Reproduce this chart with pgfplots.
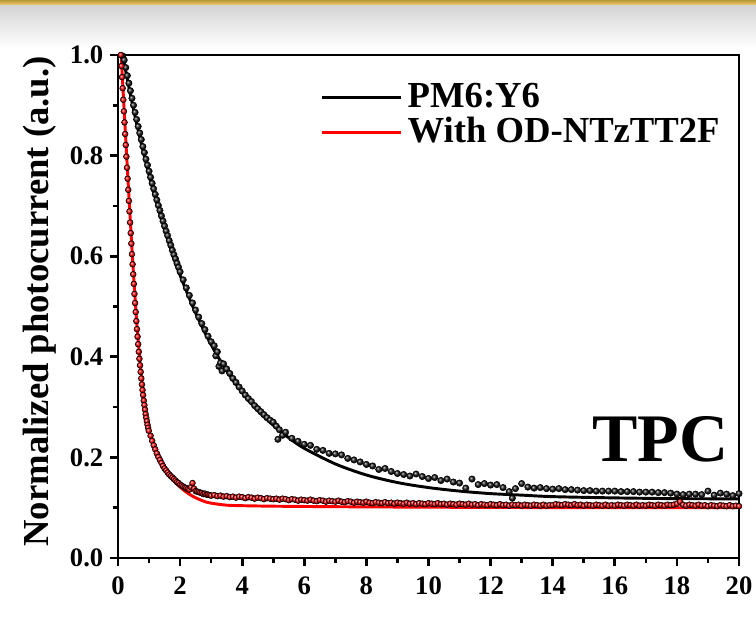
\documentclass[border=0pt]{standalone}
\usepackage{fontspec}
\setmainfont{Liberation Serif}
\usepackage{pgfplots}
\usepackage{pgfplotstable}
\pgfplotsset{compat=1.18}

\definecolor{goldA}{HTML}{B8963A}
\definecolor{goldB}{HTML}{F0D070}
\definecolor{bandgray}{HTML}{D4D4D4}

% PM6:Y6 measured points
\pgfplotstableread{
x y
0.15 0.998
0.20 0.990
0.25 0.975
0.30 0.959
0.35 0.944
0.40 0.929
0.45 0.914
0.50 0.900
0.55 0.886
0.60 0.872
0.65 0.858
0.70 0.845
0.75 0.832
0.80 0.818
0.85 0.806
0.90 0.793
0.95 0.781
1.00 0.769
1.05 0.757
1.10 0.745
1.15 0.734
1.20 0.723
1.25 0.712
1.30 0.701
1.35 0.691
1.40 0.680
1.45 0.670
1.50 0.660
1.55 0.650
1.60 0.641
1.65 0.631
1.70 0.622
1.75 0.612
1.80 0.603
1.85 0.595
1.90 0.586
1.95 0.578
2.00 0.569
2.1 0.553
2.2 0.537
2.3 0.522
2.4 0.507
2.5 0.493
2.6 0.479
2.7 0.466
2.8 0.454
2.9 0.441
3.0 0.430
3.1 0.422
3.15 0.402
3.2 0.410
3.25 0.381
3.3 0.388
3.35 0.372
3.4 0.386
3.5 0.376
3.6 0.367
3.7 0.357
3.8 0.349
3.9 0.340
4.0 0.332
4.1 0.324
4.2 0.317
4.3 0.311
4.4 0.303
4.5 0.297
4.6 0.291
4.7 0.285
4.8 0.279
4.9 0.274
5.0 0.270
5.1 0.262
5.15 0.236
5.2 0.255
5.3 0.244
5.4 0.250
5.6 0.238
5.8 0.232
6.0 0.226
6.2 0.224
6.4 0.216
6.6 0.214
6.8 0.208
7.0 0.207
7.2 0.205
7.4 0.198
7.6 0.195
7.8 0.191
8.0 0.186
8.2 0.183
8.4 0.176
8.6 0.178
8.8 0.172
9.0 0.168
9.2 0.166
9.4 0.163
9.6 0.167
9.8 0.162
10.0 0.158
10.2 0.160
10.4 0.154
10.6 0.157
10.8 0.151
11.0 0.149
11.2 0.139
11.4 0.157
11.6 0.146
11.8 0.148
12.0 0.145
12.2 0.146
12.4 0.140
12.6 0.132
12.7 0.119
12.8 0.138
13.0 0.148
13.2 0.141
13.4 0.139
13.6 0.140
13.8 0.138
14.0 0.137
14.2 0.138
14.4 0.136
14.6 0.136
14.8 0.135
15.0 0.134
15.2 0.134
15.4 0.133
15.6 0.133
15.8 0.133
16.0 0.133
16.2 0.132
16.4 0.132
16.6 0.132
16.8 0.131
17.0 0.131
17.2 0.131
17.4 0.130
17.6 0.130
17.8 0.129
18.0 0.127
18.2 0.126
18.4 0.127
18.6 0.127
18.8 0.126
19.0 0.133
19.2 0.125
19.4 0.129
19.6 0.127
19.8 0.124
20.0 0.128
}\blackdata

% PM6:Y6 fit
\pgfplotstableread{
x y
0.15 1.000
0.3 0.952
0.5 0.892
0.75 0.824
1.0 0.761
1.25 0.705
1.5 0.653
1.75 0.605
2.0 0.562
2.5 0.487
3.0 0.424
3.5 0.372
4.0 0.329
4.5 0.293
5.0 0.264
5.5 0.239
6 0.218
7 0.187
8 0.165
9 0.150
10 0.140
11 0.133
12 0.128
13 0.125
14 0.122
16 0.1195
18 0.118
20 0.1176
}\blackfit

% With OD-NTzTT2F measured points
\pgfplotstableread{
x y
0.09 1.000
0.11 0.978
0.13 0.956
0.15 0.934
0.17 0.911
0.19 0.888
0.21 0.866
0.23 0.843
0.25 0.821
0.27 0.798
0.29 0.776
0.31 0.754
0.33 0.732
0.35 0.710
0.37 0.689
0.39 0.667
0.41 0.646
0.43 0.625
0.45 0.604
0.47 0.584
0.49 0.564
0.51 0.545
0.53 0.525
0.55 0.507
0.57 0.489
0.59 0.471
0.61 0.455
0.63 0.440
0.65 0.425
0.67 0.410
0.69 0.396
0.71 0.383
0.73 0.370
0.75 0.357
0.77 0.345
0.79 0.334
0.81 0.324
0.83 0.313
0.85 0.304
0.87 0.295
0.89 0.286
0.91 0.279
0.93 0.272
0.95 0.265
0.97 0.259
0.99 0.253
1.05 0.243
1.10 0.233
1.15 0.224
1.20 0.216
1.25 0.208
1.30 0.201
1.35 0.195
1.40 0.189
1.45 0.183
1.50 0.178
1.55 0.174
1.60 0.170
1.65 0.166
1.70 0.163
1.75 0.160
1.80 0.157
1.85 0.154
1.90 0.151
1.95 0.149
2.00 0.146
2.05 0.144
2.10 0.142
2.15 0.140
2.20 0.139
2.25 0.137
2.30 0.136
2.35 0.141
2.40 0.149
2.45 0.138
2.50 0.133
2.55 0.132
2.60 0.131
2.65 0.130
2.70 0.129
2.75 0.127
2.80 0.128
2.85 0.126
2.90 0.126
2.95 0.125
3.00 0.124
3.1 0.125
3.2 0.123
3.3 0.124
3.4 0.122
3.5 0.123
3.6 0.121
3.7 0.122
3.8 0.120
3.9 0.122
4.0 0.121
4.1 0.119
4.2 0.121
4.3 0.120
4.4 0.118
4.5 0.120
4.6 0.119
4.7 0.117
4.8 0.119
4.9 0.118
5.0 0.117
5.1 0.118
5.2 0.116
5.3 0.118
5.4 0.117
5.5 0.115
5.6 0.117
5.7 0.116
5.8 0.114
5.9 0.116
6.0 0.115
6.1 0.114
6.2 0.116
6.3 0.114
6.4 0.113
6.5 0.115
6.6 0.114
6.7 0.112
6.8 0.114
6.9 0.113
7.0 0.112
7.1 0.114
7.2 0.112
7.3 0.111
7.4 0.113
7.5 0.112
7.6 0.110
7.7 0.112
7.8 0.111
7.9 0.110
8.0 0.112
8.1 0.110
8.2 0.109
8.3 0.111
8.4 0.110
8.5 0.109
8.6 0.111
8.7 0.109
8.8 0.110
8.9 0.108
9.0 0.110
9.1 0.109
9.2 0.108
9.3 0.110
9.4 0.108
9.5 0.109
9.6 0.107
9.7 0.109
9.8 0.108
9.9 0.107
10.0 0.109
10.1 0.108
10.2 0.107
10.3 0.109
10.4 0.107
10.5 0.108
10.6 0.106
10.7 0.108
10.8 0.107
10.9 0.106
11.0 0.108
11.1 0.107
11.2 0.106
11.3 0.108
11.4 0.106
11.5 0.107
11.6 0.105
11.7 0.107
11.8 0.106
11.9 0.105
12.0 0.107
12.1 0.106
12.2 0.105
12.3 0.107
12.4 0.105
12.5 0.106
12.6 0.104
12.7 0.106
12.8 0.105
12.9 0.106
13.0 0.104
13.1 0.106
13.2 0.105
13.3 0.104
13.4 0.106
13.5 0.105
13.6 0.104
13.7 0.106
13.8 0.104
13.9 0.105
14.0 0.105
14.1 0.107
14.2 0.106
14.3 0.105
14.4 0.107
14.5 0.106
14.6 0.105
14.7 0.107
14.8 0.105
14.9 0.106
15.0 0.104
15.1 0.106
15.2 0.105
15.3 0.104
15.4 0.106
15.5 0.105
15.6 0.104
15.7 0.106
15.8 0.104
15.9 0.105
16.0 0.104
16.1 0.106
16.2 0.105
16.3 0.104
16.4 0.106
16.5 0.105
16.6 0.104
16.7 0.106
16.8 0.104
16.9 0.105
17.0 0.104
17.1 0.106
17.2 0.105
17.3 0.104
17.4 0.106
17.5 0.105
17.6 0.104
17.7 0.106
17.8 0.105
17.9 0.106
18.0 0.108
18.1 0.112
18.2 0.106
18.3 0.104
18.4 0.106
18.5 0.105
18.6 0.104
18.7 0.106
18.8 0.104
18.9 0.105
19.0 0.103
19.1 0.105
19.2 0.104
19.3 0.103
19.4 0.105
19.5 0.104
19.6 0.103
19.7 0.105
19.8 0.103
19.9 0.104
20.0 0.103
}\reddata

% With OD-NTzTT2F fit
\pgfplotstableread{
x y
0.10 1.000
0.15 0.945
0.20 0.888
0.25 0.832
0.30 0.776
0.35 0.721
0.40 0.667
0.45 0.614
0.50 0.564
0.55 0.516
0.60 0.471
0.65 0.432
0.70 0.396
0.75 0.363
0.80 0.334
0.85 0.308
0.90 0.286
0.95 0.268
1.00 0.253
1.10 0.232
1.20 0.215
1.30 0.200
1.40 0.187
1.50 0.176
1.60 0.167
1.70 0.160
1.80 0.153
1.90 0.147
2.00 0.141
2.20 0.131
2.40 0.123
2.60 0.117
2.80 0.112
3.00 0.109
3.50 0.105
4.00 0.104
5.00 0.103
7.00 0.102
10.00 0.101
15.00 0.100
20.00 0.100
}\redfit

\begin{document}
\begin{tikzpicture}
\useasboundingbox (0pt,0pt) rectangle (567pt,463.5pt);
% header band
\fill[top color=bandgray, bottom color=white] (0pt,427.5pt) rectangle (567pt,459.75pt);
\fill[top color=goldA, bottom color=goldB] (0pt,459.75pt) rectangle (567pt,463.5pt);

\begin{axis}[
    at={(88.5pt,45pt)}, anchor=south west,
    scale only axis,
    width=465.75pt, height=377.25pt,
    xmin=0, xmax=20, ymin=0, ymax=1,
    xtick={0,2,4,6,8,10,12,14,16,18,20},
    ytick={0,0.2,0.4,0.6,0.8,1.0},
    minor x tick num=1, minor y tick num=1,
    tick pos=left, tick align=outside,
    major tick length=6pt, minor tick length=3.8pt,
    every tick/.style={black, line width=2pt},
    axis line style={line width=2.2pt},
    /pgf/number format/assume math mode=true,
    ticklabel style={font=\fontsize{20}{22}\selectfont\bfseries},
    yticklabel style={xshift=-1.5pt, /pgf/number format/fixed,
        /pgf/number format/fixed zerofill, /pgf/number format/precision=1},
    xticklabel style={yshift=-4.5pt},
    ylabel={Normalized photocurrent (a.u.)},
    ylabel style={font=\fontsize{27.5}{30}\selectfont\bfseries,
        at={(axis description cs:-0.1256,0.51)}, anchor=center},
    legend style={at={(0.326,0.951)}, anchor=north west, draw=none, fill=none,
        inner sep=0pt, outer sep=0pt,
        font=\fontsize{27.5}{30}\selectfont\bfseries, row sep=0pt,
        nodes={inner sep=1.2pt, text height=19.5pt, text depth=4.5pt}},
    legend cell align=left,
    legend image code/.code={\draw[#1] (0pt,0pt) -- (59pt,0pt); \path (62pt,0pt);},
]
\addplot[only marks, mark=ball, mark size=2.4pt, mark options={ball color=black!90}, forget plot] table {\blackdata};
\addplot[only marks, mark=ball, mark size=2.2pt, mark options={ball color=red}, forget plot] table {\reddata};
\addplot[black, line width=2.2pt, smooth] table {\blackfit};
\addlegendentry{PM6:Y6}
\addplot[red, line width=2.2pt, smooth] table {\redfit};
\addlegendentry{With OD-NTzTT2F}
\node[font=\fontsize{51}{55}\selectfont\bfseries] at (rel axis cs:0.873,0.235) {TPC};
\end{axis}
\end{tikzpicture}
\end{document}
